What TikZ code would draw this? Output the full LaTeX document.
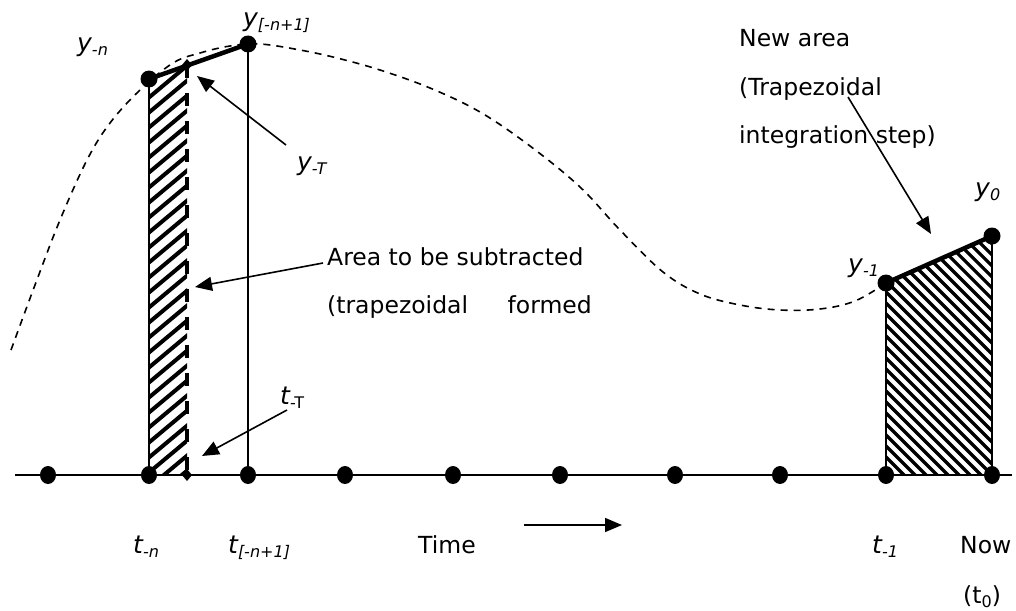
\documentclass[tikz,border=0pt]{standalone}
\usepackage{fontspec}
\setmainfont{DejaVu Sans}
\usetikzlibrary{arrows.meta,calc}

% value with a lowered subscript, as the labels on the curve and axis
\newcommand{\sublab}[2]{#1\raisebox{-4pt}{\fontsize{16}{16}\selectfont #2}}

\begin{document}
\begin{tikzpicture}[
  x=1pt,
  y=-1pt,
  line join=round,
  font=\fontsize{23.5}{28}\selectfont,
  axisline/.style={draw=black,line width=2.8pt},
  guide/.style={draw=black,line width=1.4pt},
  chord/.style={draw=black,line width=4.5pt,line cap=round},
  curve/.style={draw=black,line width=1.6pt,dash pattern=on 7pt off 6pt},
  cutline/.style={draw=black,line width=3.5pt,dash pattern=on 13pt off 15pt},
  pointer/.style={draw=black,line width=1.6pt,-{Triangle[length=17pt,width=14pt]}},
  txt/.style={inner sep=0pt,anchor=base west},
  sym/.style={txt,font=\fontsize{25}{28}\selectfont\itshape},
  oldhatch/.style={draw=black,line width=4pt},
  newhatch/.style={draw=black,line width=3.2pt}
]
  % Match the artwork frame.
  \useasboundingbox (0,0) rectangle (1016,610);

  % Sample values on the curve.
  \coordinate (yn) at (149,79);
  \coordinate (yT) at (187,65);
  \coordinate (ynn) at (248,44);
  \coordinate (ym1) at (886,283);
  \coordinate (y0) at (992,236);

  % Sample times on the axis.
  \coordinate (tn) at (149,475);
  \coordinate (tT) at (187,475);
  \coordinate (tnn) at (248,475);
  \coordinate (tm1) at (886,475);
  \coordinate (t0) at (992,475);
  \coordinate (axisL) at (15,475);
  \coordinate (axisR) at (1012,475);

  % Hatched strips: the old one to subtract, the new one to add.
  \begin{scope}
    \clip (yn) -- (yT) -- (tT) -- (tn) -- cycle;
    \foreach \c in {60,75,...,540} {
      \draw[oldhatch] (140,\c) -- ++(55,-46);
    }
  \end{scope}
  \begin{scope}
    \clip (ym1) -- (y0) -- (t0) -- (tm1) -- cycle;
    \foreach \c in {110,121,...,490} {
      \draw[newhatch] (880,\c) -- ++(120,120);
    }
  \end{scope}

  % The signal, dashed.
  \draw[curve] plot[smooth,tension=0.6] coordinates {
    (11,350) (35,285) (60,220) (87,160) (110,123) (140,90) (173,63)
    (200,53) (230,46) (260,44) (300,50) (337,58) (380,70) (430,88)
    (480,112) (530,146) (580,187) (620,230) (663,272) (700,294)
    (740,305) (780,310) (820,309) (855,301) (886,283)};

  % Time axis and the vertical guides.
  \draw[axisline] (axisL) -- (axisR);
  \draw[guide] (yn) -- (tn);
  \draw[guide] (ynn) -- (tnn);
  \draw[guide] (ym1) -- (tm1);
  \draw[guide] (y0) -- (t0);
  \draw[cutline] (yT) -- (tT);
  \draw[chord] (yn) -- (ynn);
  \draw[chord] (ym1) -- (y0);

  % Sample points.
  \foreach \x in {48,149,248,345,453,560,675,780,886,992} {
    \fill (\x,475) ellipse[x radius=8,y radius=9];
  }
  \foreach \p in {yn,ynn,ym1,y0} {
    \fill (\p) circle[radius=8.5];
  }
  \foreach \p in {yT,tT} {
    \fill ($(\p)+(0,-6)$) -- ++(5,6) -- ++(-5,6) -- ++(-5,-6) -- cycle;
  }

  % Labels of the values.
  \node[sym] (lyn) at (77,52) {\sublab{y}{-n}};
  \node[sym] (lynn) at (243,27) {\sublab{y}{[-n+1]}};
  \node[sym] (lyT) at (297,170) {\sublab{y}{-T}};
  \node[sym] (lym1) at (848,272) {\sublab{y}{-1}};
  \node[sym] (ly0) at (975,196) {\sublab{y}{0}};

  % Labels of the times.
  \node[sym] (ltn) at (133,553) {\sublab{t}{-n}};
  \node[sym] (ltnn) at (228,553) {\sublab{t}{[-n+1]}};
  \node[sym] (ltT) at (280,404) {\sublab{t}{\upshape -T}};
  \node[sym] (ltm1) at (872,553) {\sublab{t}{-1}};
  \node[txt] (lnow) at (960,553) {Now};
  \node[txt] (lt0) at (963,603) {(t\raisebox{-4pt}{\fontsize{16}{16}\selectfont 0})};
  \node[txt] (ltime) at (418,553) {Time};

  % Notes.
  \node[txt] (area1) at (327,265) {Area to be subtracted};
  \node[txt] (area2) at (327,313) {(trapezoidal};
  \node[txt,anchor=base east] (area3) at (592,313) {formed};
  \node[txt] (new1) at (739,47) {New area};
  \node[txt] (new2) at (739,95) {(Trapezoidal};
  \node[txt] (new3) at (739,143) {integration step)};

  % Pointers from the notes.
  \coordinate (yTfrom) at (286,145);
  \coordinate (yTtip) at (197,76);
  \coordinate (areafrom) at (323,263);
  \coordinate (areatip) at (195,287);
  \coordinate (tTfrom) at (287,410);
  \coordinate (tTtip) at (202,456);
  \coordinate (newfrom) at (848,97);
  \coordinate (newtip) at (931,234);
  \coordinate (timefrom) at (524,525);
  \coordinate (timeto) at (622,525);
  \draw[pointer] (yTfrom) -- (yTtip);
  \draw[pointer] (areafrom) -- (areatip);
  \draw[pointer] (tTfrom) -- (tTtip);
  \draw[pointer] (newfrom) -- (newtip);
  \draw[pointer] (timefrom) -- (timeto);
\end{tikzpicture}
\end{document}
